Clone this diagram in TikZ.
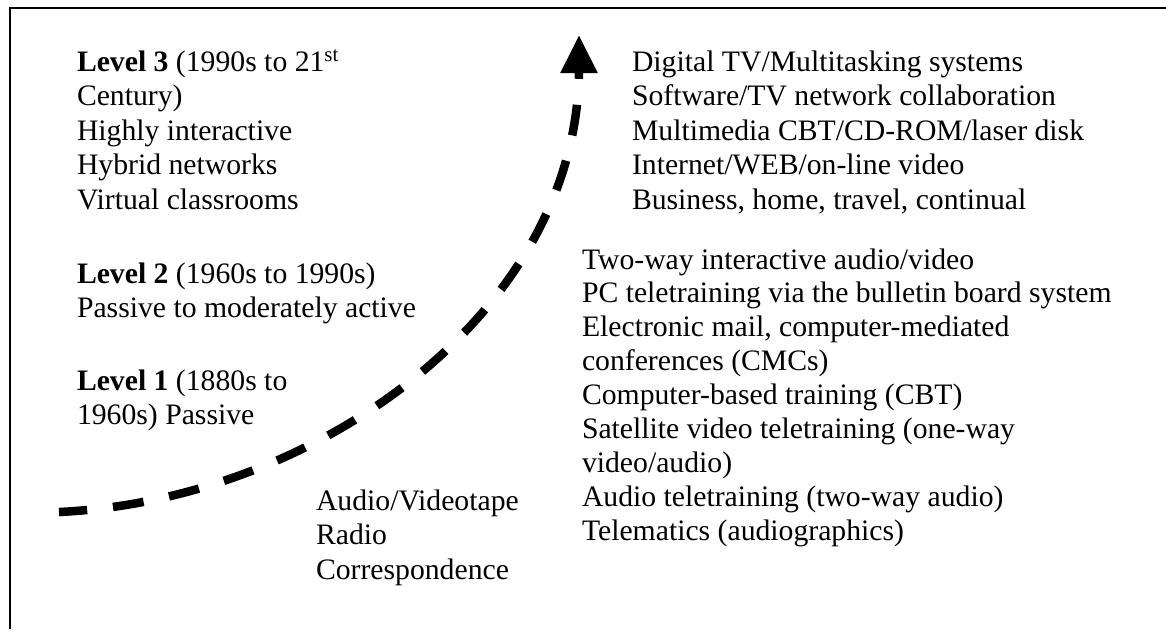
\documentclass[tikz,border=0pt]{standalone}
\usepackage{fontspec}
\setmainfont{Liberation Serif}
\usetikzlibrary{arrows.meta}
\tikzset{
  txt/.style={anchor=base west, inner sep=0pt, outer sep=0pt,
    font=\fontsize{29.7}{34.6}\selectfont},
  frameline/.style={line width=2.5pt, black},
  trend/.style={line width=8.5pt, dash pattern=on 31pt off 26pt, dash phase=23pt,
    {Triangle[length=38pt,width=35pt]}-}
}
\begin{document}
\begin{tikzpicture}[x=1pt,y=-1pt]
\useasboundingbox (0,0) rectangle (1166,629);
% frame (top and left edges)
\draw[frameline] (10,629) -- (10,8) -- (1166,8);
% left column
\node[txt] (l3a) at (77,71) {\textbf{Level 3} (1990s to 21\textsuperscript{st}};
\node[txt] (l3b) at (77,105.5) {Century)};
\node[txt] (l3c) at (77,140) {Highly interactive};
\node[txt] (l3d) at (77,174.5) {Hybrid networks};
\node[txt] (l3e) at (77,209) {Virtual classrooms};
\node[txt] (l2a) at (77,283) {\textbf{Level 2} (1960s to 1990s)};
\node[txt] (l2b) at (77,317.5) {Passive to moderately active};
\node[txt] (l1a) at (77,390) {\textbf{Level 1} (1880s to};
\node[txt] (l1b) at (77,424.5) {1960s) Passive};
% middle column
\node[txt] (m1) at (316,510) {Audio/Videotape};
\node[txt] (m2) at (316,544.5) {Radio};
\node[txt] (m3) at (316,579) {Correspondence};
% right top column
\node[txt] (r1) at (632,71) {Digital TV/Multitasking systems};
\node[txt] (r2) at (632,105.5) {Software/TV network collaboration};
\node[txt] (r3) at (632,140) {Multimedia CBT/CD-ROM/laser disk};
\node[txt] (r4) at (632,174.5) {Internet/WEB/on-line video};
\node[txt] (r5) at (632,209) {Business, home, travel, continual};
% right lower column
\node[txt] (s1) at (582,269) {Two-way interactive audio/video};
\node[txt] (s2) at (582,302.9) {PC teletraining via the bulletin board system};
\node[txt] (s3) at (582,336.8) {Electronic mail, computer-mediated};
\node[txt] (s4) at (582,370.7) {conferences (CMCs)};
\node[txt] (s5) at (582,404.6) {Computer-based training (CBT)};
\node[txt] (s6) at (582,438.5) {Satellite video teletraining (one-way};
\node[txt] (s7) at (582,472.4) {video/audio)};
\node[txt] (s8) at (582,506.3) {Audio teletraining (two-way audio)};
\node[txt] (s9) at (582,540.2) {Telematics (audiographics)};
% dashed trend arrow
\coordinate (tip) at (579,35);
\coordinate (base) at (579,73);
\coordinate (start) at (59,512);
\draw[trend] (tip) -- (base) .. controls (575,315) and (315,500) .. (start);
\end{tikzpicture}
\end{document}
